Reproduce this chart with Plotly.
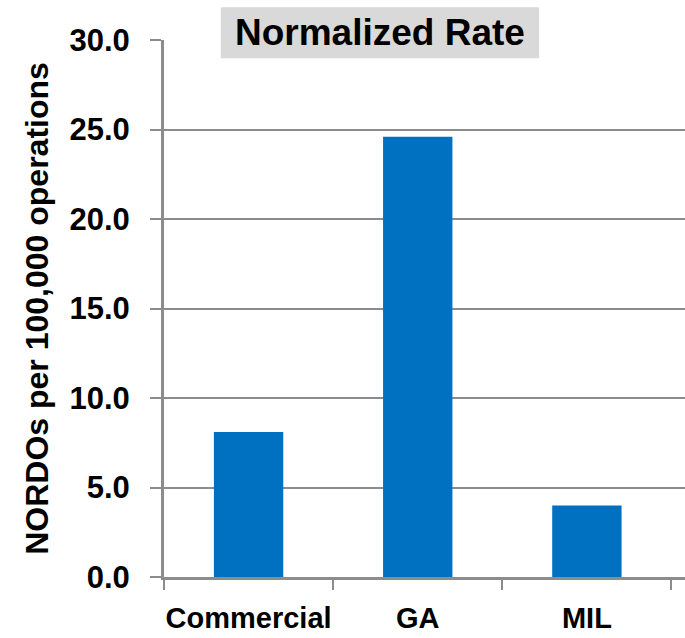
import plotly.graph_objects as go

# Normalized NORDO rates by operation type
categories = ["Commercial", "GA", "MIL"]
rates = [8.1, 24.6, 4.0]
y_ticks = [0, 5, 10, 15, 20, 25, 30]
y_tick_labels = ["0.0", "5.0", "10.0", "15.0", "20.0", "25.0", "30.0"]

GRID = "#8c8c8c"
FONT = "Liberation Sans, Arial, sans-serif"

fig = go.Figure(
    go.Bar(
        x=categories,
        y=rates,
        marker=dict(color="#0070C0", line=dict(width=0)),
        width=0.41,
    )
)

fig.update_layout(
    width=685,
    height=638,
    margin=dict(l=164, r=0, t=40, b=61),
    paper_bgcolor="white",
    plot_bgcolor="white",
    showlegend=False,
    font=dict(family=FONT, color="black"),
)

fig.update_xaxes(
    range=[-0.5, 2.58],
    tickson="boundaries",
    ticks="outside",
    ticklen=10,
    tickwidth=2,
    tickcolor=GRID,
    showline=True,
    linecolor=GRID,
    linewidth=3,
    showgrid=False,
    tickangle=0,
    automargin=False,
    tickfont=dict(family=FONT, size=29, color="black", weight="bold"),
    ticklabelstandoff=13,
)

fig.update_yaxes(
    range=[0, 30],
    tickvals=y_ticks,
    ticktext=y_tick_labels,
    ticks="outside",
    ticklen=11,
    tickwidth=2,
    tickcolor=GRID,
    showline=True,
    linecolor=GRID,
    linewidth=3,
    showgrid=True,
    gridcolor=GRID,
    gridwidth=2,
    zeroline=False,
    automargin=False,
    tickfont=dict(family=FONT, size=31, color="black", weight="bold"),
    ticklabelstandoff=14,
    title=dict(
        text="NORDOs per 100,000 operations",
        font=dict(family=FONT, size=32, color="black", weight="bold"),
        standoff=12,
    ),
)

# Title box sitting on the top gridline
fig.add_shape(
    type="rect",
    xref="paper", yref="paper",
    x0=0.109, x1=0.72, y0=0.966, y1=1.061,
    fillcolor="#d9d9d9",
    line=dict(width=0),
    layer="above",
)
fig.add_annotation(
    xref="paper", yref="paper",
    x=0.4145, y=1.0135,
    text="Normalized Rate",
    showarrow=False,
    font=dict(family=FONT, size=37, color="black", weight="bold"),
    xanchor="center", yanchor="middle",
)

fig.write_html("out.html")
